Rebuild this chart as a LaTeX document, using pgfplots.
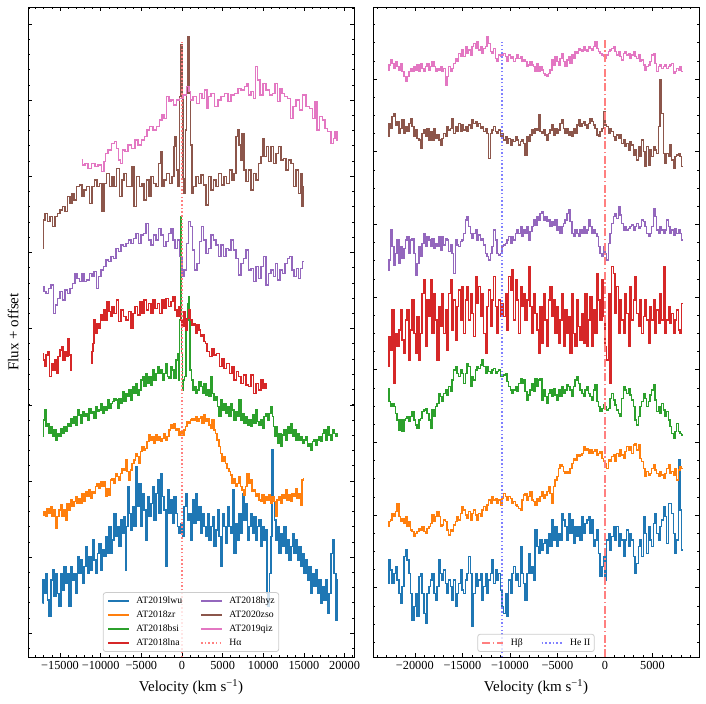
\documentclass[border=0pt]{standalone}
\usepackage{fontspec}
\setmainfont{Liberation Serif}
\usepackage{pgfplots}
\pgfplotsset{compat=1.18}
\usepackage{pgfplotstable}

\definecolor{tabblue}{HTML}{1F77B4}
\definecolor{taborange}{HTML}{FF7F0E}
\definecolor{tabgreen}{HTML}{2CA02C}
\definecolor{tabred}{HTML}{D62728}
\definecolor{tabpurple}{HTML}{9467BD}
\definecolor{tabbrown}{HTML}{8C564B}
\definecolor{tabpink}{HTML}{E377C2}
\definecolor{lightred}{HTML}{FF8080}
\definecolor{lightblue}{HTML}{8080FF}

\pgfplotstableread{
v qiz zso hyz lna bsi zr lwu
-22820 1761 1561 1161 871 806 391 221
-22645 1776 1601 1191 961 766 406 291
-22470 1791 1586 1281 921 751 411 261
-22295 1781 1621 1231 1041 761 431 221
-22120 1766 1631 1176 821 751 421 251
-21945 1786 1596 1211 971 731 436 271
-21770 1771 1606 1251 931 711 461 231
-21595 1761 1571 1181 981 681 421 191
-21420 1781 1586 1231 1041 711 406 161
-21245 1756 1611 1196 951 676 416 211
-21070 1741 1571 1226 911 711 401 301
-20895 1726 1591 1251 1011 716 421 321
-20720 1741 1576 1261 1041 721 391 291
-20545 1756 1601 1211 891 706 406 251
-20370 1766 1616 1251 981 721 381 191
-20195 1756 1591 1256 1071 736 376 111
-20020 1771 1561 1211 971 711 361 151
-19845 1761 1581 1146 911 696 371 191
-19670 1776 1556 1181 1021 686 376 121
-19495 1756 1551 1231 891 711 386 241
-19320 1781 1526 1201 971 716 381 251
-19145 1766 1571 1241 1091 736 391 191
-18970 1756 1581 1271 1131 741 376 131
-18795 1771 1561 1231 931 746 371 101
-18620 1781 1586 1261 1071 731 386 191
-18445 1761 1551 1251 1021 711 391 211
-18270 1771 1576 1231 1131 686 401 231
-18095 1786 1551 1256 971 741 426 251
-17920 1771 1586 1226 1091 721 406 191
-17745 1756 1556 1241 1011 751 421 171
-17570 1766 1566 1231 891 761 436 211
-17395 1761 1551 1261 1051 791 421 291
-17220 1771 1536 1221 991 781 391 251
-17045 1756 1556 1261 1091 766 396 231
-16870 1766 1571 1236 971 791 411 261
-16695 1716 1561 1256 1041 801 406 221
-16520 1741 1591 1251 921 786 381 191
-16345 1771 1581 1216 1091 811 366 231
-16170 1756 1586 1236 1131 796 381 211
-15995 1766 1616 1211 981 831 376 171
-15820 1781 1571 1151 1071 861 396 231
-15645 1796 1591 1251 951 871 406 151
-15470 1786 1576 1236 1051 851 421 191
-15295 1811 1601 1231 1101 841 411 221
-15120 1801 1576 1246 1011 861 431 261
-14945 1821 1596 1251 1111 851 451 201
-14770 1801 1581 1271 971 821 441 191
-14595 1831 1591 1311 1071 851 426 231
-14420 1811 1576 1321 1111 881 416 251
-14245 1821 1596 1291 1011 871 436 301
-14070 1806 1586 1271 1091 811 411 251
-13895 1831 1611 1256 1031 841 431 91
-13720 1841 1601 1271 961 831 441 191
-13545 1826 1606 1281 1141 861 426 251
-13370 1846 1591 1251 1061 871 411 211
-13195 1821 1601 1266 1111 866 431 231
-13020 1831 1586 1251 1021 876 421 251
-12845 1811 1591 1256 1091 891 441 171
-12670 1826 1576 1236 971 871 451 211
-12495 1831 1586 1211 911 851 441 251
-12320 1861 1571 1201 1051 871 456 191
-12145 1841 1496 1191 1101 856 471 231
-11970 1816 1571 1211 991 851 461 251
-11795 1811 1581 1231 1071 861 481 291
-11620 1826 1591 1281 1141 866 471 221
-11445 1796 1576 1251 1051 851 476 261
-11270 1786 1571 1211 971 856 461 231
-11095 1806 1581 1206 1071 861 471 251
-10920 1801 1561 1211 1021 841 456 201
-10745 1806 1571 1231 1061 841 476 151
-10570 1811 1551 1236 1021 846 491 131
-10395 1801 1561 1241 1091 851 481 191
-10220 1786 1541 1251 981 826 471 121
-10045 1806 1556 1261 1141 811 481 231
-9870 1796 1536 1241 1101 801 476 191
-9695 1801 1551 1261 1161 791 461 251
-9520 1786 1546 1251 1011 801 466 271
-9345 1796 1561 1271 1131 811 456 231
-9170 1806 1551 1281 1071 796 451 251
-8995 1796 1536 1271 971 821 446 211
-8820 1801 1546 1291 1111 836 441 331
-8645 1786 1551 1261 1051 821 471 251
-8470 1791 1541 1281 1091 831 486 221
-8295 1786 1506 1271 1011 796 491 171
-8120 1771 1561 1291 1071 771 471 251
-7945 1776 1546 1251 1171 786 481 311
-7770 1786 1566 1276 1051 801 496 251
-7595 1776 1581 1291 971 821 471 271
-7420 1771 1571 1311 1091 796 466 231
-7245 1756 1586 1296 1031 836 456 381
-7070 1781 1581 1321 981 811 476 331
-6895 1756 1626 1311 911 831 466 311
-6720 1771 1576 1331 1051 836 481 351
-6545 1761 1571 1336 941 771 496 321
-6370 1751 1581 1311 1091 801 476 341
-6195 1746 1566 1321 1011 781 486 351
-6020 1741 1551 1306 931 761 496 311
-5845 1751 1571 1311 1071 791 511 371
-5670 1761 1581 1291 1111 801 491 331
-5495 1791 1596 1306 1021 781 461 411
-5320 1776 1566 1296 1071 806 511 351
-5145 1801 1586 1311 971 786 531 391
-4970 1786 1571 1281 1051 771 541 331
-4795 1776 1581 1291 941 801 566 371
-4620 1796 1601 1271 1011 781 576 351
-4445 1811 1611 1291 1091 811 571 431
-4270 1786 1586 1301 931 791 556 411
-4095 1771 1571 1311 1041 801 551 391
-3920 1791 1586 1331 971 816 556 351
-3745 1801 1566 1341 1021 811 551 431
-3570 1781 1576 1306 911 801 566 371
-3395 1806 1561 1271 1091 781 581 411
-3220 1796 1586 1261 971 811 596 341
-3045 1816 1571 1281 931 831 591 391
-2870 1811 1596 1271 1071 841 606 361
-2695 1826 1611 1261 991 821 601 391
-2520 1821 1591 1281 951 801 606 351
-2345 1816 1601 1271 1031 791 611 421
-2170 1831 1606 1291 941 781 631 371
-1995 1821 1596 1271 1091 801 621 401
-1820 1816 1586 1281 931 811 626 411
-1645 1831 1601 1311 1011 791 611 421
-1470 1826 1616 1291 1081 781 621 371
-1295 1821 1606 1271 931 771 611 411
-1120 1831 1596 1281 1041 801 616 331
-945 1846 1586 1271 971 816 621 351
-770 1826 1566 1261 1151 766 606 381
-595 1816 1561 1231 1071 751 611 311
-420 1811 1576 1211 1011 736 616 241
-245 1806 1586 1201 1131 746 596 271
-70 1801 1636 1231 1021 756 586 301
105 1796 1596 1211 931 751 581 231
280 1806 1591 1191 891 741 566 351
455 1816 1571 1241 1091 746 591 371
630 1821 1586 1271 821 776 586 321
805 1826 1576 1301 1171 791 601 361
980 1831 1561 1321 1151 771 606 391
1155 1816 1551 1331 1031 756 586 351
1330 1806 1566 1316 1111 741 611 391
1505 1816 1556 1351 971 731 601 331
1680 1801 1566 1326 1071 721 621 371
1855 1791 1541 1301 1011 776 606 351
2030 1811 1551 1281 971 811 596 301
2205 1816 1531 1291 1091 801 616 351
2380 1806 1541 1281 1031 791 631 381
2555 1811 1521 1286 931 806 621 331
2730 1796 1546 1291 1111 786 631 371
2905 1806 1536 1296 1011 771 611 351
3080 1816 1506 1281 1071 751 636 301
3255 1801 1521 1291 1141 711 641 251
3430 1796 1491 1301 1031 696 621 281
3605 1806 1531 1286 991 721 636 331
3780 1786 1501 1291 1071 751 596 351
3955 1791 1551 1311 971 766 586 301
4130 1776 1516 1306 1021 791 566 421
4305 1761 1471 1291 1071 776 541 371
4480 1771 1531 1271 1011 751 556 311
4655 1776 1476 1261 941 766 546 391
4830 1786 1521 1271 1051 786 551 351
5005 1806 1501 1291 1011 801 566 331
5180 1811 1531 1346 1071 816 576 401
5355 1781 1521 1321 971 771 561 431
5530 1756 1511 1281 1041 736 551 371
5705 1771 1591 1271 1001 751 541 351
5880 1776 1731 1291 1091 731 556 391
6055 1766 1631 1281 1011 761 546 411
6230 1771 1511 1271 1171 741 536 451
6405 1776 1481 1281 971 721 551 421
6580 1766 1511 1311 1011 736 566 341
6755 1771 1501 1291 1051 711 576 461
6930 1776 1536 1271 1001 691 551 461
7105 1781 1491 1281 1031 671 556 431
7280 1751 1466 1266 971 656 546 371
7455 1756 1501 1286 1011 676 566 311
7630 1766 1506 1271 1041 701 531 351
7805 1761 1511 1281 981 676 561 591
7980 1771 1501 1271 971 671 571 441
8155 1756 1471 1251 1061 666 566 321
}\rightdata

\pgfplotsset{
  sp/.style={line width=1.5bp, const plot mark mid},
  specax/.style={
    scale only axis, width=326bp, height=650bp,
    ymin=0, ymax=1950,
    scaled x ticks=false,
    axis line style={line width=0.8bp},
    major tick length=4bp, minor tick length=2bp,
    every tick/.style={black, line width=0.6bp},
    tick align=inside,
    yticklabels={},
    xticklabel style={font=\fontsize{12.3bp}{14bp}\selectfont, inner sep=0pt, anchor=north, yshift=-4.6bp},
    x label style={at={(axis description cs:0.5,-0.0531)}, anchor=base, font=\fontsize{15bp}{18bp}\selectfont},
    xlabel={Velocity (km s\textsuperscript{−1})},
    legend cell align=left,
    legend style={
      at={(0.5,0.0077)}, anchor=south,
      font=\fontsize{9.7bp}{11bp}\selectfont,
      draw=black!20, line width=0.8bp, rounded corners=2.5bp,
      fill=white, fill opacity=0.8, text opacity=1, draw opacity=1,
      inner xsep=4bp, inner ysep=4.15bp,
      row sep=4.9bp,
      nodes={inner sep=0pt, text height=7bp, text depth=2bp, anchor=west},
      /tikz/every odd column/.append style={column sep=6.7bp},
      /tikz/every even column/.append style={column sep=18bp},
    },
    legend image code/.code={\draw[#1, sharp corners] (0bp,0bp) -- (21bp,0bp);},
  }
}

\begin{document}
\begin{tikzpicture}
\path[use as bounding box] (-28bp,-47bp) rectangle (678bp,657bp);

% ---------------- left panel: H alpha ----------------
\begin{axis}[specax, at={(0bp,0bp)}, anchor=south west,
  xmin=-18940, xmax=21160,
  xtick={-15000,-10000,-5000,0,5000,10000,15000,20000},
  xticklabels={−15000,−10000,−5000,0,5000,10000,15000,20000},
  minor xtick={-18000,-17000,...,21000},
  ytick={71.3,299.7,528.1,756.5,984.9,1213.3,1441.7,1670.1,1898.5},
  minor ytick={25.6,71.3,...,1950},
  ylabel={Flux + offset},
  y label style={at={(axis description cs:-0.0298,0.5)}, anchor=base, font=\fontsize{15bp}{18bp}\selectfont},
  legend columns=4, transpose legend,
  unbounded coords=jump,
]
\addplot[sp, tabblue] table {
-17138 161
-17056 231
-16851 191
-16646 251
-16441 171
-16236 121
-16031 231
-15826 261
-15621 181
-15416 251
-15211 191
-15006 151
-14801 251
-14596 201
-14391 271
-14186 221
-13981 251
-13776 151
-13571 271
-13366 231
-13161 251
-12956 191
-12751 301
-12546 251
-12341 291
-12136 221
-11931 271
-11726 331
-11521 251
-11316 301
-11111 261
-10906 351
-10701 291
-10496 251
-10291 311
-10086 341
-9881 261
-9676 321
-9471 301
-9266 361
-9061 311
-8856 391
-8651 311
-8446 351
-8241 431
-8036 361
-7831 391
-7626 331
-7421 411
-7216 371
-7011 421
-6888 261
-6724 391
-6560 511
-6396 431
-6191 381
-5986 451
-5781 391
-5576 571
-5371 451
-5166 521
-4961 391
-4756 491
-4551 441
-4346 351
-4141 481
-3936 421
-3731 461
-3526 511
-3321 411
-3116 491
-2911 531
-2706 431
-2501 551
-2296 481
-2091 441
-1886 271
-1681 501
-1476 431
-1271 471
-1066 401
-861 481
-656 431
-451 391
-246 371
-41 401
164 361
369 451
574 491
779 411
984 431
1189 351
1394 471
1599 401
1804 491
2009 411
2214 451
2419 371
2624 431
2829 391
3034 361
3239 431
3444 351
3649 391
3854 421
4059 331
4264 381
4469 441
4674 361
4879 271
5084 431
5289 391
5494 341
5699 451
5904 391
6109 371
6314 501
6519 311
6724 401
6929 351
7134 431
7339 371
7544 491
7749 411
7954 461
8159 351
8364 391
8569 431
8774 371
8979 421
9184 351
9389 391
9594 411
9799 331
10004 391
10209 351
10414 381
10537 191
10660 151
10824 251
11029 361
11152 621
11316 471
11480 411
11644 351
11849 391
12054 311
12259 371
12464 331
12669 391
12874 311
13079 351
13284 291
13489 331
13694 371
13899 311
14104 351
14309 291
14514 331
14719 271
14924 311
15129 251
15334 291
15539 231
15744 271
15949 191
16154 251
16359 211
16564 261
16769 191
16974 231
17179 161
17384 211
17589 171
17794 231
17999 131
18204 191
18409 311
18614 351
18819 251
19024 111
19229 231
};
\addlegendentry{AT2019lwu}
\addplot[sp, taborange] table {
-17097 426
-16892 436
-16687 421
-16482 446
-16277 431
-16072 451
-15867 421
-15662 441
-15457 386
-15252 421
-15047 441
-14842 456
-14637 421
-14432 441
-14227 411
-14022 461
-13817 441
-13612 471
-13407 451
-13202 466
-12997 481
-12792 461
-12587 476
-12382 461
-12177 491
-11972 466
-11767 496
-11562 481
-11357 501
-11152 476
-10947 496
-10742 491
-10537 511
-10332 521
-10127 506
-9922 526
-9717 511
-9512 526
-9307 481
-9102 506
-8897 486
-8692 531
-8487 536
-8282 521
-8077 551
-7872 541
-7667 531
-7462 551
-7257 566
-7052 561
-6847 591
-6642 556
-6437 531
-6232 561
-6027 581
-5822 591
-5617 611
-5412 601
-5207 581
-5002 616
-4797 631
-4592 621
-4387 626
-4182 646
-3977 666
-3772 651
-3567 661
-3362 641
-3157 666
-2952 651
-2747 661
-2542 646
-2337 656
-2132 671
-1927 651
-1722 661
-1517 681
-1312 696
-1107 686
-902 701
-697 681
-492 686
-287 666
-82 676
123 666
328 681
533 691
738 706
943 701
1148 711
1353 716
1558 711
1763 721
1968 706
2173 716
2378 721
2583 701
2788 726
2993 706
3198 716
3403 696
3608 686
3813 711
4018 681
4223 671
4428 651
4633 631
4838 611
5043 586
5248 601
5453 581
5658 566
5863 556
6068 546
6273 521
6478 536
6683 511
6888 521
7093 541
7298 511
7503 501
7708 486
7913 511
8118 551
8323 521
8528 531
8733 496
8938 501
9143 481
9348 491
9553 471
9758 466
9963 486
10168 461
10373 481
10578 471
10783 486
10988 461
11193 481
11398 466
11603 421
11808 471
12013 481
12218 461
12423 486
12628 476
12833 501
13038 471
13243 486
13448 466
13653 491
13858 481
14063 506
14268 476
14473 491
14678 456
14883 531
15006 536
};
\addlegendentry{AT2018zr}
\addplot[sp, tabgreen] table {
-17138 661
-16974 711
-16810 741
-16646 691
-16441 701
-16236 671
-16031 691
-15826 661
-15621 681
-15416 651
-15211 671
-15006 661
-14801 686
-14596 671
-14391 691
-14186 676
-13981 701
-13776 691
-13571 716
-13366 701
-13161 721
-12956 696
-12751 741
-12546 726
-12341 701
-12136 736
-11931 721
-11726 731
-11521 711
-11316 746
-11111 731
-10906 736
-10701 716
-10496 751
-10291 736
-10086 741
-9881 761
-9676 731
-9471 751
-9266 741
-9061 771
-8856 746
-8651 761
-8446 766
-8241 776
-8036 771
-7831 746
-7626 776
-7421 761
-7216 796
-7011 766
-6806 791
-6601 781
-6396 801
-6191 771
-5986 811
-5781 791
-5576 821
-5371 786
-5166 801
-4961 831
-4756 841
-4551 811
-4346 851
-4141 821
-3936 841
-3731 816
-3526 861
-3321 831
-3116 851
-2911 871
-2706 851
-2501 861
-2296 831
-2091 851
-1886 881
-1681 841
-1476 836
-1271 871
-1066 861
-861 836
-656 891
-451 911
-369 831
-246 1011
-164 1321
-82 1231
0 911
82 801
246 831
410 841
574 981
738 1061
820 1081
943 1011
1066 861
1230 831
1435 801
1599 811
1804 791
2009 801
2214 826
2419 811
2624 791
2829 821
3034 786
3239 801
3444 781
3649 841
3854 791
4059 771
4264 781
4469 751
4674 721
4879 771
5084 741
5289 761
5494 731
5699 751
5904 721
6109 761
6314 741
6519 711
6724 736
6929 721
7134 771
7339 711
7544 731
7749 701
7954 721
8159 696
8364 711
8569 691
8774 726
8979 701
9184 741
9389 706
9594 696
9799 711
10004 686
10209 721
10414 731
10619 711
10824 731
11029 751
11234 721
11316 691
11480 661
11644 691
11849 641
12054 671
12259 631
12464 666
12669 681
12874 651
13079 691
13284 671
13489 701
13694 661
13899 681
14104 651
14309 671
14514 651
14719 661
14924 641
15129 651
15334 661
15539 631
15744 641
15949 621
16154 646
16359 651
16564 636
16769 651
16974 661
17179 646
17384 671
17589 681
17794 651
17999 691
18204 666
18409 651
18614 681
18819 671
19024 661
19229 671
};
\addlegendentry{AT2018bsi}
\addplot[sp, tabred] table {
-17097 911
-16974 891
-16810 871
-16605 906
-16400 916
-16154 841
-15990 881
-15744 861
-15539 891
-15334 851
-15129 901
-14924 921
-14719 931
-14514 891
-14309 916
-14104 901
-13899 956
-13735 906
-13612 861
-12400 nan
-11152 881
-11029 916
-10865 941
-10742 1011
-10537 971
-10332 1001
-10127 986
-9922 1026
-9717 1011
-9512 1041
-9307 1011
-9102 1066
-8897 1036
-8692 1021
-8487 1051
-8200 1031
-7954 1071
-7667 1006
-7380 1041
-7052 1021
-6724 1011
-6437 1036
-6150 986
-5904 1031
-5617 1051
-5330 1026
-5002 1066
-4797 1031
-4510 1071
-4264 1041
-3977 1061
-3690 1031
-3444 1071
-3157 1046
-2870 1061
-2624 1031
-2337 1071
-2132 1046
-1804 1076
-1517 1051
-1230 1066
-984 1081
-697 1041
-492 1021
-287 1051
-82 1011
123 991
328 1036
533 981
738 1016
943 1041
1148 1011
1353 996
1558 1001
1763 971
1968 996
2173 981
2378 961
2583 966
2788 946
2993 941
3198 916
3526 901
3813 926
4100 906
4428 911
4756 871
5043 896
5330 866
5658 881
5986 851
6273 871
6560 831
6806 856
7093 841
7380 821
7708 846
7995 816
8323 811
8610 846
8938 791
9266 821
9553 801
9840 831
10086 806
10250 821
10414 806
};
\addlegendentry{AT2018lna}
\addplot[sp, tabpurple] table {
-17097 1111
-16892 1096
-16564 1091
-16277 1106
-15990 1116
-15662 1031
-15457 1056
-15170 1076
-14842 1096
-14514 1071
-14227 1101
-13940 1091
-13612 1106
-13284 1121
-12997 1151
-12792 1136
-12464 1126
-12177 1151
-11890 1126
-11562 1131
-11234 1151
-10947 1141
-10660 1156
-10414 1106
-10127 1141
-9840 1161
-9512 1171
-9184 1191
-8897 1186
-8610 1201
-8282 1196
-7954 1226
-7667 1216
-7380 1236
-7052 1231
-6724 1241
-6437 1251
-6150 1241
-5822 1256
-5494 1271
-5207 1241
-4920 1266
-4592 1271
-4264 1301
-3977 1251
-3690 1236
-3362 1266
-3034 1251
-2747 1286
-2460 1266
-2132 1231
-1804 1246
-1517 1271
-1230 1286
-984 1251
-697 1226
-410 1251
-164 1201
123 1141
410 1161
656 1241
943 1306
1148 1291
1435 1221
1681 1161
1968 1181
2296 1246
2501 1291
2788 1251
3075 1211
3403 1226
3690 1266
4018 1251
4346 1236
4633 1201
4920 1236
5248 1201
5535 1226
5863 1221
6150 1251
6478 1221
6765 1196
7093 1146
7380 1181
7708 1196
7995 1221
8323 1161
8610 1166
8938 1126
9266 1171
9553 1136
9840 1171
10168 1201
10496 1116
10783 1151
11070 1161
11398 1141
11603 1181
11890 1131
12218 1161
12546 1151
12833 1181
13120 1196
13366 1201
13653 1161
13940 1141
14186 1166
14473 1136
14678 1166
15006 1186
};
\addlegendentry{AT2018hyz}
\addplot[sp, tabbrown] table {
-17097 1226
-17015 1311
-16687 1331
-16400 1306
-16072 1321
-15744 1291
-15457 1321
-15170 1331
-14842 1341
-14514 1351
-14227 1336
-13940 1381
-13612 1361
-13407 1391
-13120 1371
-12792 1411
-12464 1416
-12177 1381
-11890 1401
-11562 1411
-11234 1361
-10947 1411
-10619 1431
-10332 1411
-10004 1421
-9717 1336
-9430 1421
-9102 1451
-8774 1411
-8487 1441
-8200 1411
-7872 1466
-7544 1381
-7257 1431
-6970 1451
-6642 1411
-6314 1411
-6027 1471
-5740 1351
-5412 1441
-5084 1411
-4797 1421
-4510 1371
-4182 1431
-3977 1381
-3690 1441
-3362 1421
-3034 1411
-2747 1481
-2542 1516
-2337 1411
-2050 1431
-1722 1451
-1394 1421
-1107 1441
-902 1531
-779 1561
-574 1461
-410 1411
-205 1681
-82 1836
41 1681
164 1436
328 1391
492 1581
656 1691
820 1861
984 1691
1148 1536
1271 1391
1558 1411
1886 1441
2173 1421
2460 1446
2788 1416
3116 1356
3403 1441
3690 1401
4018 1431
4346 1411
4633 1451
5043 1416
5330 1441
5658 1421
5986 1461
6273 1431
6560 1451
6724 1561
6888 1581
7134 1536
7298 1491
7503 1571
7708 1461
8036 1426
8323 1461
8610 1401
8938 1451
9266 1431
9553 1481
9840 1501
10086 1556
10250 1501
10496 1531
10783 1486
11070 1531
11398 1481
11726 1511
12013 1531
12300 1491
12628 1496
12956 1461
13243 1491
13530 1481
13858 1411
14186 1461
14473 1391
14678 1451
14883 1351
15006 1411
};
\addlegendentry{AT2020zso}
\addplot[sp, tabpink] table {
-12350 1491
-12150 1476
-11740 1481
-11330 1466
-10920 1481
-10510 1471
-10100 1476
-9690 1456
-9490 1486
-9280 1511
-8875 1521
-8470 1541
-8180 1546
-7935 1526
-7650 1491
-7445 1481
-7240 1521
-6830 1516
-6420 1536
-6010 1526
-5600 1551
-5195 1536
-4785 1551
-4375 1561
-4170 1581
-3760 1591
-3355 1581
-2945 1591
-2620 1611
-2330 1626
-2045 1616
-1720 1681
-1510 1666
-1225 1671
-900 1656
-490 1671
-80 1676
330 1686
735 1711
940 1696
1145 1671
1555 1681
1965 1661
2370 1691
2575 1676
2985 1701
3190 1646
3395 1681
3805 1691
4215 1651
4620 1671
5030 1681
5440 1691
5850 1666
6260 1686
6665 1691
7075 1706
7485 1701
7895 1711
8100 1721
8300 1686
8710 1696
8915 1676
9200 1771
9405 1731
9735 1686
10145 1721
10550 1701
10960 1686
11370 1691
11575 1721
11985 1666
12190 1706
12390 1691
12800 1681
13210 1676
13500 1616
13825 1651
14235 1671
14640 1641
15050 1686
15460 1651
15870 1646
16280 1616
16480 1666
16690 1581
17100 1621
17505 1611
17710 1586
18120 1576
18530 1541
18730 1556
18935 1576
19225 1551
};
\addlegendentry{AT2019qiz}
\addplot[lightred, line width=1.5bp, dash pattern=on 1.5bp off 2.2bp, sharp plot] coordinates {(0,0) (0,1845)};
\addlegendentry{Hα}
\end{axis}

% ---------------- right panel: H beta ----------------
\begin{axis}[specax, at={(345bp,0bp)}, anchor=south west,
  xmin=-24400, xmax=9900,
  xtick={-20000,-15000,-10000,-5000,0,5000},
  xticklabels={−20000,−15000,−10000,−5000,0,5000},
  minor xtick={-24000,-23000,...,9000},
  ytick={208,426,644,862,1080,1298,1516,1734},
  minor ytick={44.5,99,...,1950},
  legend columns=2,
]
\addplot[sp, tabblue, forget plot] table[x=v, y=lwu] {\rightdata};
\addplot[sp, taborange, forget plot] table[x=v, y=zr] {\rightdata};
\addplot[sp, tabgreen, forget plot] table[x=v, y=bsi] {\rightdata};
\addplot[sp, tabred, forget plot] table[x=v, y=lna] {\rightdata};
\addplot[sp, tabpurple, forget plot] table[x=v, y=hyz] {\rightdata};
\addplot[sp, tabbrown, forget plot] table[x=v, y=zso] {\rightdata};
\addplot[sp, tabpink, forget plot] table[x=v, y=qiz] {\rightdata};
\addplot[lightred, line width=1.5bp, dash pattern=on 8bp off 2.5bp on 1.5bp off 2.5bp, sharp plot] coordinates {(0,0) (0,1851)};
\addlegendentry{Hβ}
\addplot[lightblue, line width=1.5bp, dash pattern=on 1.5bp off 2.2bp, sharp plot] coordinates {(-10830,0) (-10830,1845)};
\addlegendentry{He II}
\end{axis}
\end{tikzpicture}
\end{document}
